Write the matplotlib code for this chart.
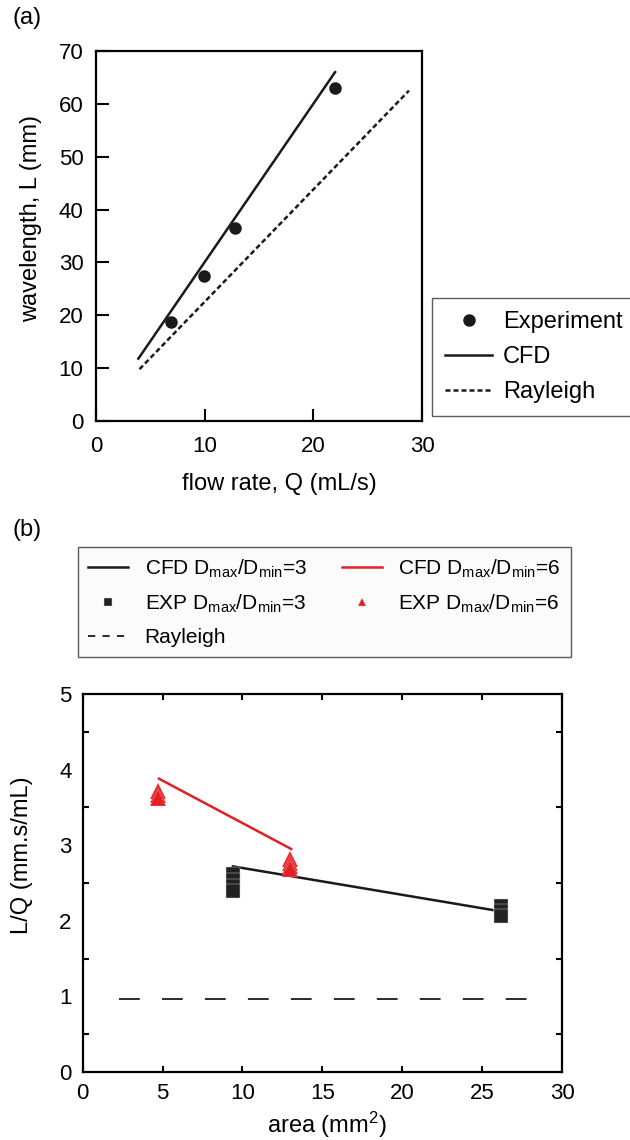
#!/usr/bin/env python3
"""
Two-panel figure: jet wavelength vs flow rate (a) and L/Q vs cross-section area (b).
"""

import matplotlib
matplotlib.use("Agg")
import matplotlib.pyplot as plt
from matplotlib.ticker import MultipleLocator

plt.rcParams["font.family"] = ["Liberation Sans", "DejaVu Sans"]
plt.rcParams["mathtext.fontset"] = "custom"
plt.rcParams["mathtext.rm"] = "Liberation Sans"
plt.rcParams["mathtext.it"] = "Liberation Sans:italic"

# ---- panel (a) data
exp_q = [6.9, 9.9, 12.8, 22.0]
exp_L = [18.7, 27.5, 36.5, 63.0]
cfd_q = [3.9, 22.0]
cfd_L = [11.8, 66.0]
ray_q = [4.0, 28.8]
ray_L = [9.8, 62.5]

# ---- panel (b) data
cfd3_area = [9.4, 26.3]
cfd3_lq = [2.72, 2.12]
cfd6_area = [4.77, 13.05]
cfd6_lq = [3.88, 2.95]
exp3_area = [9.4, 9.4, 9.4, 9.4, 26.2, 26.2, 26.2]
exp3_lq = [2.62, 2.54, 2.46, 2.39, 2.19, 2.13, 2.07]
exp6_area = [4.7, 4.7, 4.7, 13.0, 13.0, 13.0, 13.0]
exp6_lq = [3.72, 3.66, 3.62, 2.82, 2.77, 2.72, 2.68]
ray_area = [2.3, 28.7]
ray_lq = [0.97, 0.97]

FT = 16   # tick labels
FL = 17   # axis labels / legend (a)
FB = 15   # legend (b)
W, H = 630, 1140

fig = plt.figure(figsize=(6.3, 11.4), dpi=100)

# ---------------- (a)
ax1 = fig.add_axes([96 / W, 1 - 421 / H, 326 / W, 370 / H])
ax1.plot(exp_q, exp_L, "o", color="#1a1a1a", markersize=8, label="Experiment")
ax1.plot(cfd_q, cfd_L, "-", color="#1a1a1a", linewidth=1.8, label="CFD")
ax1.plot(ray_q, ray_L, color="#1a1a1a", linewidth=1.8, linestyle=(0, (2, 1.2)), label="Rayleigh")
ax1.set_xlim(0, 30)
ax1.set_ylim(0, 70)
ax1.set_xticks([0, 10, 20, 30])
ax1.set_yticks(range(0, 71, 10))
ax1.tick_params(axis="x", direction="in", length=9, width=1.5, labelsize=FT, pad=11)
ax1.tick_params(axis="y", direction="in", length=9, width=1.5, labelsize=FT, pad=9)
for s in ax1.spines.values():
    s.set_linewidth(1.6)
ax1.set_xlabel("flow rate, Q (mL/s)", fontsize=FL)
ax1.set_ylabel("wavelength, L (mm)", fontsize=FL)
ax1.xaxis.set_label_coords(0.564, -(484 - 421) / 370, transform=ax1.transAxes)
ax1.yaxis.set_label_coords(-(96 - 31) / 326, 0.546, transform=ax1.transAxes)
ax1.xaxis.label.set_va("center")
ax1.yaxis.label.set_va("center")
leg1 = ax1.legend(loc="upper left", bbox_to_anchor=(432 / W, 1 - 298 / H),
                  bbox_transform=fig.transFigure, borderaxespad=0, fontsize=FL,
                  frameon=True, fancybox=False, edgecolor="#333333",
                  handlelength=2.0, borderpad=0.55, labelspacing=0.55,
                  handletextpad=0.45)
leg1.get_frame().set_linewidth(1.0)
fig.text(12 / W, 1 - 18 / H, "(a)", fontsize=FL, va="center")

# ---------------- (b)
ax2 = fig.add_axes([82.7 / W, 1 - 1072 / H, 479.3 / W, 378 / H])
ax2.plot(cfd3_area, cfd3_lq, "-", color="#1a1a1a", linewidth=1.8,
         label=r"CFD D$_{\rm max}$/D$_{\rm min}$=3")
ax2.plot(exp3_area, exp3_lq, "s", color="#222222", markersize=9.5, linestyle="none",
         markeredgecolor="#dddddd", markeredgewidth=0.3,
         label=r"EXP D$_{\rm max}$/D$_{\rm min}$=3")
ax2.plot(ray_area, ray_lq, color="#1a1a1a", linewidth=1.3, linestyle=(0, (11.5, 12.3)),
         label="Rayleigh")
ax2.plot(cfd6_area, cfd6_lq, "-", color="#e31e24", linewidth=1.8,
         label=r"CFD D$_{\rm max}$/D$_{\rm min}$=6")
ax2.plot(exp6_area, exp6_lq, "^", color="#e31e24", markersize=11,
         markeredgecolor="#f7c8c8", markeredgewidth=0.2, linestyle="none",
         label=r"EXP D$_{\rm max}$/D$_{\rm min}$=6")
ax2.set_xlim(0, 30)
ax2.set_ylim(0, 5)
ax2.xaxis.set_major_locator(MultipleLocator(5))
ax2.yaxis.set_major_locator(MultipleLocator(1))
ax2.yaxis.set_minor_locator(MultipleLocator(0.5))
ax2.tick_params(which="major", axis="x", direction="in", length=4, width=1.5,
                top=True, labelsize=FT, pad=8)
ax2.tick_params(which="major", axis="y", direction="in", length=0, labelsize=FT, pad=8)
ax2.tick_params(which="minor", axis="y", direction="in", length=4, width=1.5, right=True)
for s in ax2.spines.values():
    s.set_linewidth(1.6)
ax2.set_xlabel(r"area (mm$^2$)", fontsize=FL)
ax2.set_ylabel("L/Q (mm.s/mL)", fontsize=FL)
ax2.xaxis.set_label_coords(0.51, -(1125 - 1072) / 378, transform=ax2.transAxes)
ax2.yaxis.set_label_coords(-(82.7 - 22) / 479.3, 0.574, transform=ax2.transAxes)
ax2.xaxis.label.set_va("center")
ax2.yaxis.label.set_va("center")
leg2 = ax2.legend(loc="upper left", bbox_to_anchor=(78 / W, 1 - 547 / H),
                  bbox_transform=fig.transFigure, borderaxespad=0, ncol=2,
                  fontsize=FB, frameon=True, fancybox=False, edgecolor="#333333",
                  facecolor="#fafafa", handlelength=1.9, markerscale=0.55,
                  columnspacing=1.7, borderpad=0.5, labelspacing=0.62,
                  handletextpad=0.8)
leg2.get_frame().set_linewidth(1.0)
# shorter dashes for the Rayleigh legend handle
leg2.get_lines()[2].set_linestyle((0, (4, 4)))
fig.text(12 / W, 1 - 530 / H, "(b)", fontsize=FL, va="center")

fig.savefig("out.png", dpi=100)
plt.close(fig)
